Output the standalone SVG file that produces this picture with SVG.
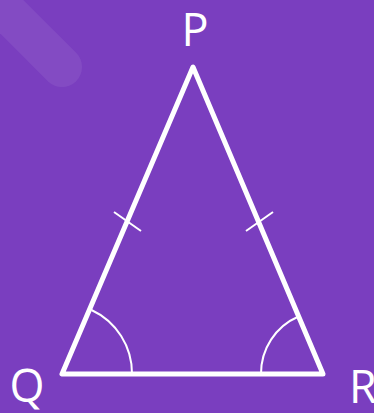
<svg xmlns="http://www.w3.org/2000/svg" width="374" height="413" viewBox="0 0 374 413">
<style>
.lbl{font-family:"Open Sans","Noto Sans",sans-serif;font-size:45px;fill:#ffffff;text-anchor:middle}
.edge{fill:none;stroke:#ffffff;stroke-width:5;stroke-linejoin:round;stroke-linecap:round}
.thin{fill:none;stroke:#ffffff;stroke-width:2}
</style>
<rect x="0" y="0" width="374" height="413" fill="#7a3ebf"/>
<line x1="-20" y1="-15" x2="62" y2="67" stroke="#ffffff" stroke-opacity="0.07" stroke-width="40" stroke-linecap="round"/>
<g id="connectors">
<path class="edge" d="M193 67 L62 374 L323 374 Z"/>
<line class="thin" x1="114" y1="212" x2="141" y2="231"/>
<line class="thin" x1="246" y1="231" x2="273" y2="212"/>
<path class="thin" d="M91.5 310 A70 70 0 0 1 132 374"/>
<path class="thin" d="M298.5 316.5 A62 62 0 0 0 261 374"/>
</g>
<g id="P"><text class="lbl" x="195" y="46">P</text></g>
<g id="Q"><text class="lbl" x="27" y="402">Q</text></g>
<g id="R"><text class="lbl" x="363" y="403">R</text></g>
</svg>
